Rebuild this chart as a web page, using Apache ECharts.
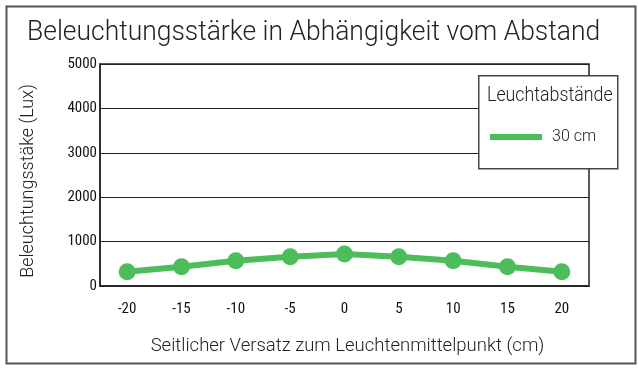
<!DOCTYPE html>
<html>
<head>
<meta charset="utf-8">
<script src="https://cdn.jsdelivr.net/npm/echarts@6/dist/echarts.min.js"></script>
<style>html,body{margin:0;padding:0;background:#fff;}#c{width:639px;height:368px;}</style>
</head>
<body>
<div id="c"></div>
<script>
const categories = ['-20','-15','-10','-5','0','5','10','15','20'];
const values30cm = [320, 435, 570, 660, 720, 660, 570, 435, 320];
const seriesName = '30 cm';
const titleText = 'Beleuchtungsstärke in Abhängigkeit vom Abstand';
const yAxisTitle = 'Beleuchtungsstäke (Lux)';
const xAxisTitle = 'Seitlicher Versatz zum Leuchtenmittelpunkt (cm)';
const legendTitle = 'Leuchtabstände';

const green = '#4cbd5a';
const tickFont = '"Liberation Sans Narrow", "Roboto Condensed", Roboto, sans-serif';
const lightFont = 'Roboto, "Open Sans", sans-serif';

const chart = echarts.init(document.getElementById('c'), null, {renderer: 'canvas'});
chart.setOption({
  animation: false,
  backgroundColor: '#fff',
  grid: {left: 100, right: 50, top: 64, bottom: 82, show: true, borderColor: '#222', borderWidth: 1.5, backgroundColor: 'transparent'},
  xAxis: {
    type: 'category', data: categories, boundaryGap: true,
    axisLine: {lineStyle: {color: '#222', width: 1.5}},
    axisTick: {show: false},
    axisLabel: {fontFamily: tickFont, fontSize: 15, color: '#111', margin: 16},
    name: xAxisTitle, nameLocation: 'middle', nameGap: 51,
    nameTextStyle: {fontFamily: lightFont, fontWeight: 300, fontSize: 18.5, color: '#222', padding: [0, 0, 0, 6]}
  },
  yAxis: {
    type: 'value', min: 0, max: 5000, interval: 1000,
    axisLine: {show: true, lineStyle: {color: '#222', width: 1.5}},
    axisTick: {show: false},
    splitLine: {lineStyle: {color: '#222', width: 1}},
    axisLabel: {fontFamily: tickFont, fontSize: 15, color: '#111', margin: 3, formatter: v => String(v)}
  },
  legend: {
    data: [seriesName], left: 490, top: 129, padding: 0, icon: 'rect', itemWidth: 52, itemHeight: 6,
    z: 20,
    textStyle: {fontFamily: lightFont, fontWeight: 300, fontSize: 16, color: '#222', padding: [0,0,0,5]}
  },
  graphic: [
    {type: 'text', x: 27, y: 33, scaleX: 0.944, z: 16,
     style: {text: titleText, font: '300 28px Roboto, "Open Sans", sans-serif', fill: '#222', verticalAlign: 'middle'}},
    {type: 'rect', left: 4, top: 4, z: 100, silent: true,
     shape: {width: 629, height: 357}, style: {fill: 'none', stroke: '#555', lineWidth: 2}},
    {type: 'rect', left: 478, top: 75, z: 15,
     shape: {width: 139, height: 93}, style: {fill: '#fff', stroke: '#444', lineWidth: 1.5}},
    {type: 'text', x: 487, y: 96, scaleX: 0.89, z: 16,
     style: {text: legendTitle, font: '300 20px Roboto, "Open Sans", sans-serif', fill: '#222', verticalAlign: 'middle'}},
    {type: 'text', x: 28, y: 181, rotation: Math.PI / 2, z: 16,
     style: {text: yAxisTitle, font: '300 18px Roboto, "Open Sans", sans-serif', fill: '#222', align: 'center', verticalAlign: 'middle'}}
  ],
  series: [{
    name: seriesName, type: 'line', data: values30cm,
    lineStyle: {color: green, width: 6}, itemStyle: {color: green},
    symbol: 'circle', symbolSize: 17, showSymbol: true
  }]
});
</script>
</body>
</html>
